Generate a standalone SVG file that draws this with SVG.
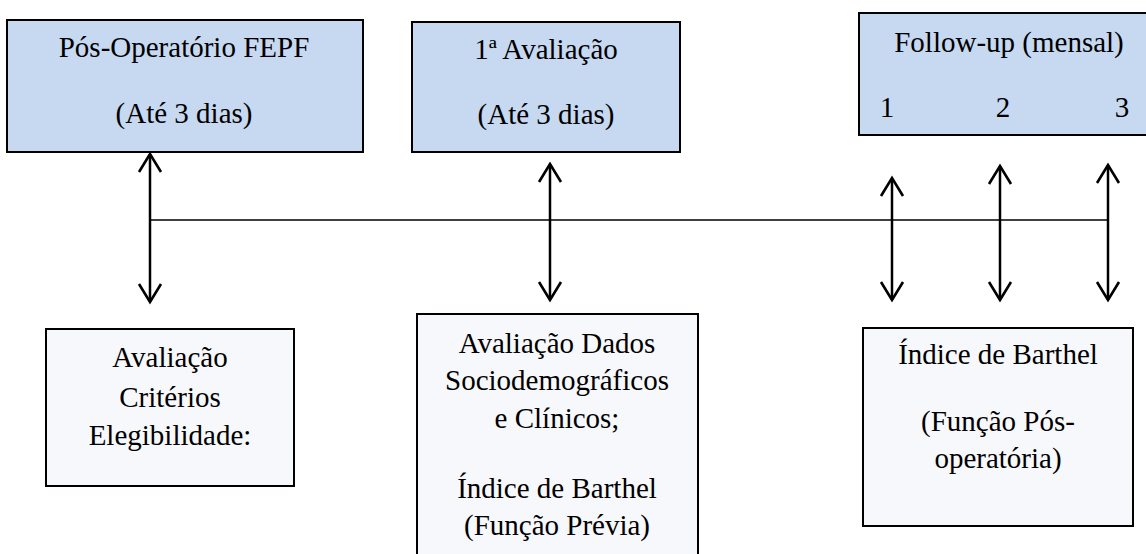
<svg xmlns="http://www.w3.org/2000/svg" width="1146" height="554" viewBox="0 0 1146 554">
<style>
.top{fill:#c6d9f1;stroke:#000;stroke-width:2}
.bot{fill:#f7f8fc;stroke:#000;stroke-width:2}
text{font-family:'Liberation Serif','Times New Roman',serif;font-size:29px;fill:#000;text-anchor:middle}
.ln{stroke:#000;stroke-width:2.5;fill:none}
.hl{stroke:#000;stroke-width:1.6;fill:none}
</style>
<defs>
<marker id="ah" markerUnits="userSpaceOnUse" viewBox="-22 -14 26 28" refX="0" refY="0" markerWidth="26" markerHeight="28" orient="auto-start-reverse">
<path d="M-18,-11 L0,0 L-18,11" fill="none" stroke="#000" stroke-width="2.6"/>
</marker>
</defs>
<rect width="1146" height="554" fill="#fff"/>
<g id="n1">
<rect class="top" x="7" y="20" width="356" height="132"/>
<text x="184" y="57">Pós-Operatório FEPF</text>
<text x="184" y="123">(Até 3 dias)</text>
</g>
<g id="n2">
<rect class="top" x="412" y="22" width="268" height="130"/>
<text x="546" y="59">1ª Avaliação</text>
<text x="546" y="124">(Até 3 dias)</text>
</g>
<g id="n3">
<rect class="top" x="859" y="13" width="292" height="122"/>
<text x="1009" y="52">Follow-up (mensal)</text>
<text x="887" y="117">1</text>
<text x="1003" y="117">2</text>
<text x="1122" y="117">3</text>
</g>
<g id="n4">
<rect class="bot" x="46" y="329" width="248" height="157"/>
<text x="170" y="367">Avaliação</text>
<text x="170" y="407">Critérios</text>
<text x="170" y="445">Elegibilidade:</text>
</g>
<g id="n5">
<rect class="bot" x="417" y="314" width="281" height="250"/>
<text x="557" y="353">Avaliação Dados</text>
<text x="557" y="390">Sociodemográficos</text>
<text x="557" y="428">e Clínicos;</text>
<text x="557" y="498">Índice de Barthel</text>
<text x="557" y="535">(Função Prévia)</text>
</g>
<g id="n6">
<rect class="bot" x="863" y="328" width="270" height="198"/>
<text x="998" y="364">Índice de Barthel</text>
<text x="998" y="431">(Função Pós-</text>
<text x="998" y="468">operatória)</text>
</g>
<g id="connectors">
<line class="hl" x1="150" y1="220" x2="1108" y2="220"/>
<line class="ln" x1="150" y1="154" x2="150" y2="302" marker-start="url(#ah)" marker-end="url(#ah)"/>
<line class="ln" x1="550" y1="164" x2="550" y2="300" marker-start="url(#ah)" marker-end="url(#ah)"/>
<line class="ln" x1="892" y1="178" x2="892" y2="300" marker-start="url(#ah)" marker-end="url(#ah)"/>
<line class="ln" x1="1000" y1="166" x2="1000" y2="300" marker-start="url(#ah)" marker-end="url(#ah)"/>
<line class="ln" x1="1108" y1="165" x2="1108" y2="300" marker-start="url(#ah)" marker-end="url(#ah)"/>
</g>
</svg>
